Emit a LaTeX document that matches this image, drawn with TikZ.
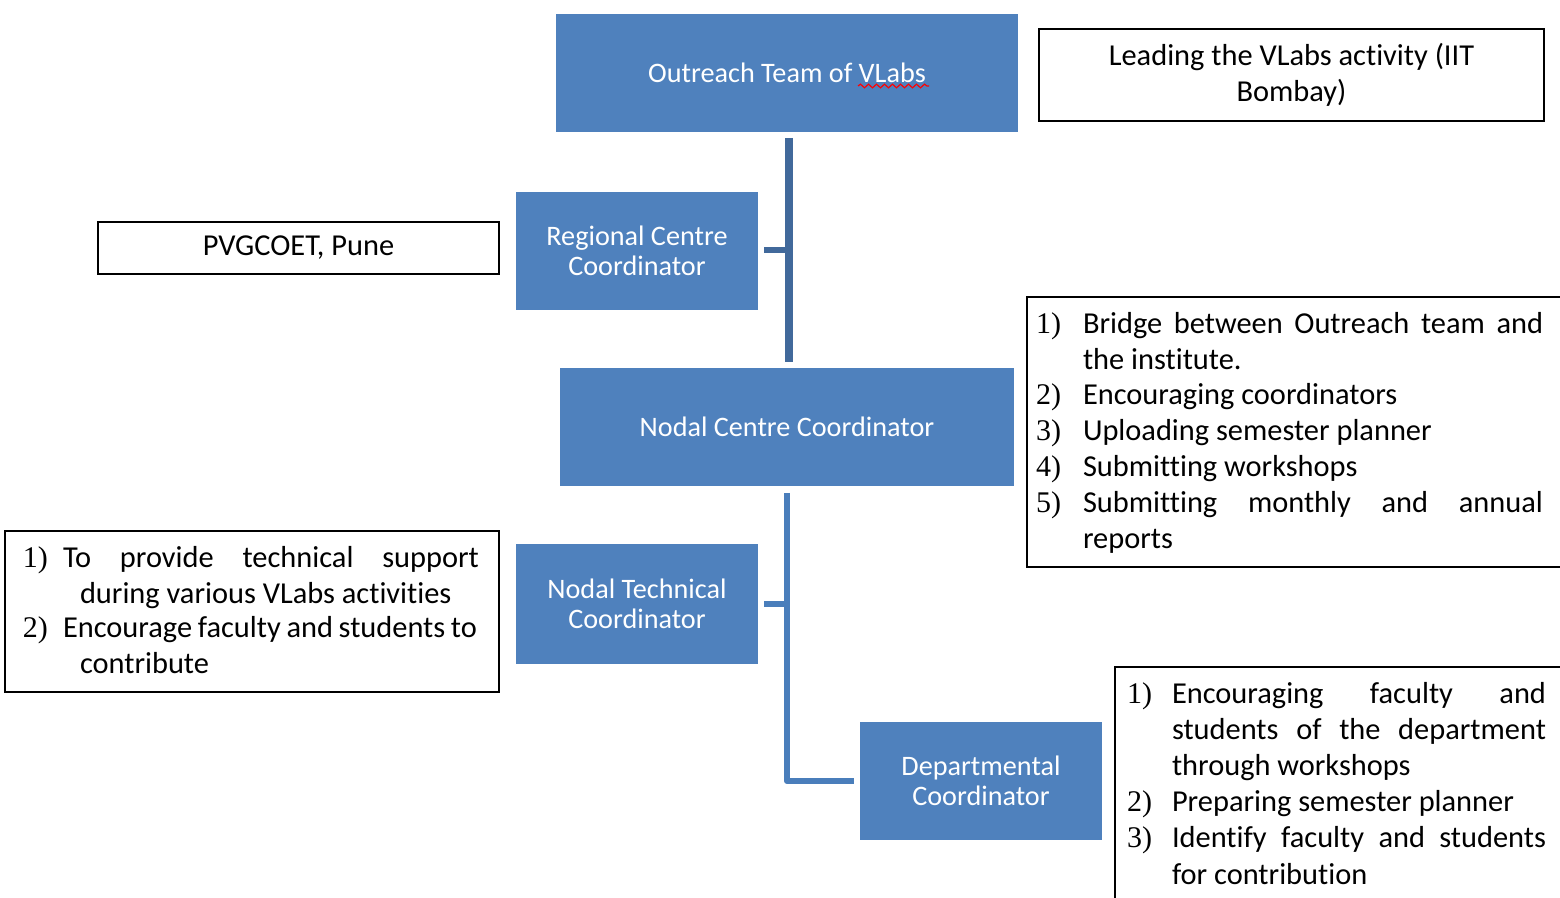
\documentclass[tikz,border=0pt]{standalone}
\usepackage{fontspec}
\setmainfont{Carlito}[Ligatures=NoCommon]
\newfontfamily\tnrfont{Liberation Serif}
\usetikzlibrary{decorations.pathmorphing}
\definecolor{boxblue}{HTML}{4F81BD}
\definecolor{upblue}{HTML}{41699B}
\definecolor{lowblue}{HTML}{4A7EBB}
\newcommand\jus[2]{\makebox[#1][s]{#2}}
\tikzset{
  bluebox/.style={fill=boxblue, draw=none, text=white, font=\fontsize{14.1}{15}\selectfont, align=center, inner sep=0pt, outer sep=0pt},
  framebox/.style={draw=black, line width=1pt, fill=none, inner sep=0pt, outer sep=0pt},
  txt/.style={anchor=base west, inner sep=0pt, outer sep=0pt, font=\fontsize{15.2}{18}\selectfont},
  num/.style={anchor=base west, inner sep=0pt, outer sep=0pt, font=\tnrfont\fontsize{15}{18}\selectfont},
  ctxt/.style={inner sep=0pt, outer sep=0pt, align=center, font=\fontsize{15.2}{18}\selectfont},
  upline/.style={draw=upblue, line width=3.7pt},
  upstub/.style={draw=upblue, line width=3pt},
  lowline/.style={draw=lowblue, line width=3pt, line join=round}
}
\begin{document}
\begin{tikzpicture}[x=0.5pt, y=-0.5pt]
\useasboundingbox (0,0) rectangle (1560,898);
\clip (0,0) rectangle (1560,898);

% blue boxes
\node[bluebox, minimum width=231pt, minimum height=59pt] (outreach) at (787,73) {Outreach Team of VLabs};
\node[bluebox, minimum width=121pt, minimum height=59pt] (regional) at (637,251) {Regional Centre\\Coordinator};
\node[bluebox, minimum width=227pt, minimum height=59pt] (nodal) at (787,427) {Nodal Centre Coordinator};
\node[bluebox, minimum width=121pt, minimum height=60pt] (ntech) at (637,604) {Nodal Technical\\Coordinator};
\node[bluebox, minimum width=121pt, minimum height=59pt] (dept) at (981,781) {Departmental\\Coordinator};

% spell-check squiggle
\draw[red, line width=0.6pt, decorate, decoration={snake, amplitude=0.9pt, segment length=4pt}] (858,86) -- (929,86);

% connectors
\draw[upline] ([xshift=1pt,yshift=-3pt]outreach.south) -- ([xshift=1pt,yshift=3pt]nodal.north);
\draw[upstub] ([xshift=3pt,yshift=0.5pt]regional.east) -- ([xshift=1pt,yshift=0.5pt]regional.east -| outreach.south);
\draw[lowline] ([yshift=-3.5pt]nodal.south) -- (nodal.south |- dept.west) -- ([xshift=-3pt]dept.west);
\draw[lowline] ([xshift=3pt]ntech.east) -- (ntech.east -| nodal.south);

% framed boxes
\node[framebox, minimum width=252.5pt, minimum height=46pt] (leading) at (1291.5,75) {};
\node[ctxt] (leadtxt) at (1291.5,75) {Leading the VLabs activity (IIT\\Bombay)};

\node[framebox, minimum width=200.5pt, minimum height=26pt] (pvg) at (298.5,248) {};
\node[ctxt] (pvgtxt) at (298.5,248) {PVGCOET, Pune};

\node[framebox, minimum width=276.5pt, minimum height=135pt] (nodalbox) at (1303.5,432) {};
\node[num] (na1) at (1036,334) {1)};
\node[txt] (ta1) at (1083,334) {\jus{230pt}{Bridge between Outreach team and}};
\node[txt] (ta2) at (1083,370) {the institute.};
\node[num] (na2) at (1036,405) {2)};
\node[txt] (ta3) at (1083,405) {Encouraging coordinators};
\node[num] (na3) at (1036,441) {3)};
\node[txt] (ta4) at (1083,441) {Uploading semester planner};
\node[num] (na4) at (1036,477) {4)};
\node[txt] (ta5) at (1083,477) {Submitting workshops};
\node[num] (na5) at (1036,513) {5)};
\node[txt] (ta6) at (1083,513) {\jus{230pt}{Submitting monthly and annual}};
\node[txt] (ta7) at (1083,549) {reports};

\node[framebox, minimum width=247pt, minimum height=80.5pt] (techbox) at (252,611.5) {};
\node[num] (nb1) at (23,568) {1)};
\node[txt] (tb1) at (63,568) {\jus{208pt}{To provide technical support}};
\node[txt] (tb2) at (80,604) {during various VLabs activities};
\node[num] (nb2) at (23,638) {2)};
\node[txt] (tb3) at (63,638) {\jus{207pt}{Encourage faculty and students to}};
\node[txt] (tb4) at (80,674) {contribute};

\node[framebox, minimum width=232.5pt, minimum height=126.5pt] (deptbox) at (1347.5,793.5) {};
\node[num] (nc1) at (1127,704) {1)};
\node[txt] (tc1) at (1172,704) {\jus{187pt}{Encouraging faculty and}};
\node[txt] (tc2) at (1172,740) {\jus{187pt}{students of the department}};
\node[txt] (tc3) at (1172,776) {through workshops};
\node[num] (nc2) at (1127,812) {2)};
\node[txt] (tc4) at (1172,812) {Preparing semester planner};
\node[num] (nc3) at (1127,848) {3)};
\node[txt] (tc5) at (1172,848) {\jus{187pt}{Identify faculty and students}};
\node[txt] (tc6) at (1172,884) {for contribution};
\end{tikzpicture}
\end{document}
